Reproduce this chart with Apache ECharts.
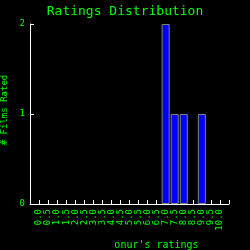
<!DOCTYPE html>
<html>
<head>
<meta charset="utf-8">
<script src="https://cdn.jsdelivr.net/npm/echarts@6/dist/echarts.min.js"></script>
<style>
  html, body { margin: 0; padding: 0; background: #000; }
  #chart { width: 250px; height: 250px; }
</style>
</head>
<body>
<div id="chart"></div>
<script>
// rating buckets 0.0 .. 10.0
var ratings = [0, 0.5, 1, 1.5, 2, 2.5, 3, 3.5, 4, 4.5, 5, 5.5, 6, 6.5, 7, 7.5, 8, 8.5, 9, 9.5, 10]
// number of films in each bucket
var counts = [0, 0, 0, 0, 0, 0, 0, 0, 0, 0, 0, 0, 0, 0, 2, 1, 1, 0, 1, 0, 0]
var yTicks = [0, 1, 2]

var green = '#00ff00'
var font = 'DejaVu Sans Mono'

var barData = []
ratings.forEach(function(r, i) {
  if (counts[i] > 0) barData.push([r, counts[i]])
})

var chart = echarts.init(document.getElementById('chart'))
chart.setOption({
  backgroundColor: '#000',
  animation: false,
  title: {
    text: 'Ratings Distribution',
    left: 'center',
    top: 0,
    textStyle: { color: green, fontFamily: font, fontSize: 13, fontWeight: 'normal' }
  },
  grid: { left: 30, right: 21, top: 24, bottom: 46, containLabel: false, outerBoundsMode: 'none' },
  xAxis: {
    type: 'value',
    min: -0.5,
    max: 10.5,
    interval: 0.5,
    name: "onur's ratings",
    nameLocation: 'middle',
    nameGap: 36,
    nameTextStyle: { color: green, fontFamily: font, fontSize: 10, padding: [0, 0, 0, 54] },
    splitLine: { show: false },
    axisLine: { onZero: false, lineStyle: { color: '#fff', width: 1 } },
    axisTick: { inside: true, length: 4, lineStyle: { color: '#fff' } },
    axisLabel: {
      color: green,
      fontFamily: font,
      fontSize: 9,
      rotate: 90,
      margin: 5,
      formatter: function(v) {
        return ratings.indexOf(v) < 0 ? '' : v.toFixed(1)
      }
    }
  },
  yAxis: {
    type: 'value',
    min: yTicks[0],
    max: yTicks[yTicks.length - 1],
    interval: 1,
    name: '# Films Rated',
    nameLocation: 'middle',
    nameGap: 15,
    nameTextStyle: { color: green, fontFamily: font, fontSize: 9, padding: [0, 0, 0, 8] },
    splitLine: { show: false },
    axisLine: { show: true, onZero: false, lineStyle: { color: '#fff', width: 1 } },
    axisTick: { show: true, inside: true, length: 4, lineStyle: { color: '#fff' } },
    axisLabel: { color: green, fontFamily: font, fontSize: 9, margin: 5 }
  },
  series: [{
    type: 'bar',
    barWidth: 8,
    itemStyle: { color: '#0000ff', borderColor: '#808080', borderWidth: 1 },
    data: barData
  }]
})
</script>
</body>
</html>
